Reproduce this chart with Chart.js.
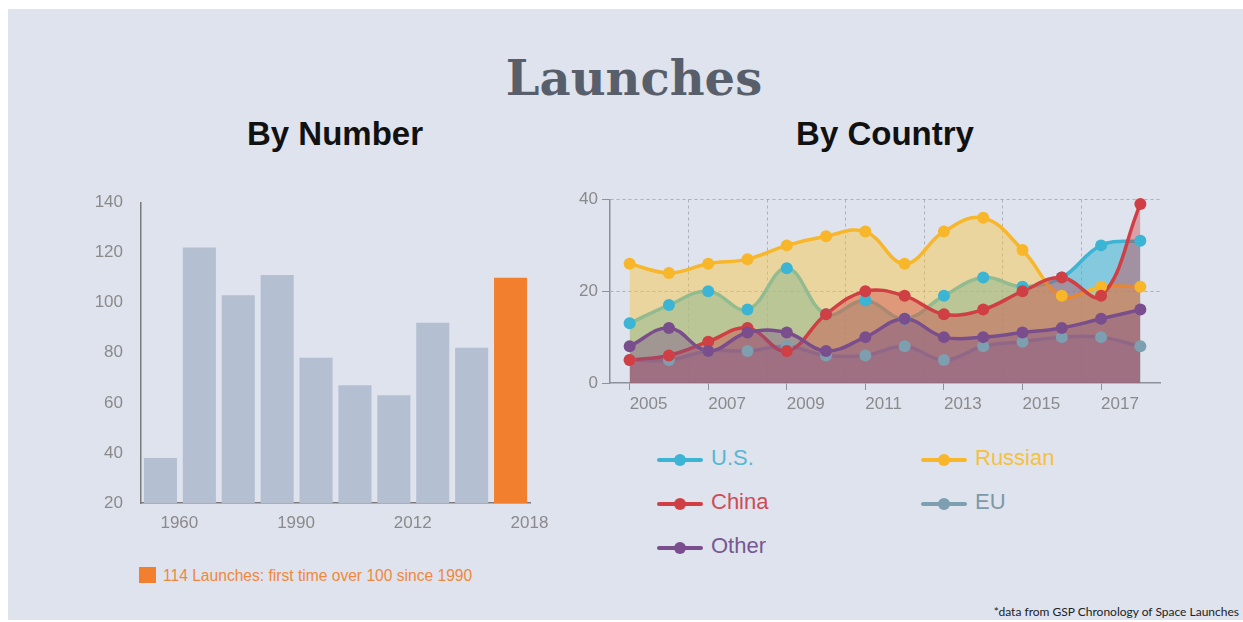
<!DOCTYPE html>
<html>
<head>
<meta charset="utf-8">
<script src="https://cdn.jsdelivr.net/npm/chart.js@4.4.1/dist/chart.umd.min.js"></script>
<style>
  html, body { margin: 0; padding: 0; background: #ffffff; }
  body { width: 1243px; height: 622px; position: relative; overflow: hidden; font-family: "Liberation Sans", Arial, sans-serif; }
  #slide { position: absolute; left: 8px; top: 9px; width: 1235px; height: 611px; background: #dee3ee; }
  .abs { position: absolute; white-space: nowrap; line-height: 1; }
  #title { left: 334px; width: 600px; top: 54px; text-align: center; font-family: "DejaVu Serif", serif; font-weight: bold; font-size: 48px; color: #595f6a; }
  .sub { width: 400px; top: 117px; text-align: center; font-weight: bold; font-size: 33px; color: #111111; }
  #note-box { left: 139px; top: 567px; width: 17px; height: 16px; background: #f27f2d; }
  #note { left: 163px; top: 568px; font-size: 15.6px; color: #f0883c; }
  #source { right: 4px; top: 606px; font-family: Lato, sans-serif; font-size: 12px; color: #222222; }
  canvas { position: absolute; }
  .leg-line { position: absolute; width: 46px; height: 4px; border-radius: 2px; }
  .leg-dot { position: absolute; width: 12px; height: 12px; border-radius: 50%; }
  .leg-text { position: absolute; font-size: 22px; line-height: 1; white-space: nowrap; }
</style>
</head>
<body>
<div id="slide"></div>
<div id="title" class="abs">Launches</div>
<div class="abs sub" style="left:135px">By Number</div>
<div class="abs sub" style="left:685px">By Country</div>
<canvas id="barChart" width="480" height="350" style="left:80px; top:190px"></canvas>
<canvas id="lineChart" width="620" height="240" style="left:560px; top:185px"></canvas>
<div id="legend"></div>
<div id="note-box" class="abs"></div>
<div id="note" class="abs">114 Launches: first time over 100 since 1990</div>
<div id="source" class="abs">*data from GSP Chronology of Space Launches</div>

<script>
// By Number (bars)
const barLabels = ['1960', '', '', '1990', '', '', '2012', '', '', '2018'];
const barValues = [38, 122, 103, 111, 78, 67, 63, 92, 82, 110];

// By Country (lines)
const years = ['2005', '2006', '2007', '2008', '2009', '2010', '2011', '2012', '2013', '2014', '2015', '2016', '2017', '2018'];
const usLaunches      = [13, 17, 20, 16, 25, 15, 18, 14, 19, 23, 21, 23, 30, 31];
const russianLaunches = [26, 24, 26, 27, 30, 32, 33, 26, 33, 36, 29, 19, 21, 21];
const chinaLaunches   = [5, 6, 9, 12, 7, 15, 20, 19, 15, 16, 20, 23, 19, 39];
const euLaunches      = [5, 5, 7, 7, 8, 6, 6, 8, 5, 8, 9, 10, 10, 8];
const otherLaunches   = [8, 12, 7, 11, 11, 7, 10, 14, 10, 10, 11, 12, 14, 16];

const axisGray = '#8b9099';
const tickGray = '#8a8a8a';
const gridGray = 'rgba(140, 140, 150, 0.6)';

Chart.defaults.font.family = '"Liberation Sans", Arial, sans-serif';
Chart.defaults.animation = false;

// Bar chart
new Chart(document.getElementById('barChart'), {
    type: 'bar',
    data: {
        labels: barLabels,
        datasets: [{
            data: barValues,
            backgroundColor: barValues.map((v, i) => i === barValues.length - 1 ? '#f27f2d' : '#b5bfd2'),
            borderWidth: 0,
            categoryPercentage: 0.85,
            barPercentage: 1
        }]
    },
    options: {
        responsive: false,
        layout: { padding: { top: 12.5, right: 30 } },
        plugins: { legend: { display: false }, tooltip: { enabled: false } },
        scales: {
            x: {
                grid: { display: false },
                border: { color: '#7a7a7a', width: 1.5 },
                ticks: {
                    autoSkip: false, maxRotation: 0, align: 'start',
                    color: tickGray, font: { size: 17 }, padding: 2
                },
                afterFit: scale => { scale.height = 37; }
            },
            y: {
                min: 20, max: 140,
                // invisible tick marks keep the labels away from the axis
                grid: { drawOnChartArea: false, drawTicks: true, tickLength: 16, tickColor: 'transparent' },
                border: { color: '#7a7a7a', width: 1.5 },
                ticks: { stepSize: 20, color: tickGray, font: { size: 17 }, padding: 2 },
                afterFit: scale => { scale.width = 61; }
            }
        }
    }
});

// Line chart
const series = [
    { name: 'U.S.',    values: usLaunches,      color: '#3cb4d4', fill: 'rgba(60, 180, 212, 0.55)', text: '#56b7d3' },
    { name: 'Russian', values: russianLaunches, color: '#f8b62a', fill: 'rgba(250, 196, 62, 0.45)', text: '#f7c03e' },
    { name: 'China',   values: chinaLaunches,   color: '#cf3f44', fill: 'rgba(207, 63, 68, 0.40)',  text: '#cf4c55' },
    { name: 'EU',      values: euLaunches,      color: '#7d9fb0', fill: 'rgba(125, 159, 176, 0.40)', text: '#7d99a8' },
    { name: 'Other',   values: otherLaunches,   color: '#7a4e8c', fill: 'rgba(122, 78, 140, 0.40)',  text: '#775890' }
];
// bottom to top: U.S., Russian, EU, China, Other
const drawRank = { 'U.S.': 5, 'Russian': 4, 'EU': 3, 'China': 2, 'Other': 1 };

const lineSets = series.map(s => ({
    data: s.values,
    borderColor: s.color,
    backgroundColor: s.fill,
    fill: 'origin',
    tension: 0.4,
    borderWidth: 3.5,
    pointRadius: 0,
    order: 10 + drawRank[s.name]
}));
const pointSets = series.map(s => ({
    data: s.values,
    showLine: false,
    fill: false,
    pointRadius: 6,
    pointBorderWidth: 0,
    pointBackgroundColor: s.color,
    clip: false,
    order: drawRank[s.name]
}));

new Chart(document.getElementById('lineChart'), {
    type: 'line',
    data: { labels: years, datasets: lineSets.concat(pointSets) },
    options: {
        responsive: false,
        layout: { padding: { top: 14.5, right: 20 } },
        plugins: { legend: { display: false }, tooltip: { enabled: false } },
        scales: {
            x: {
                offset: true,
                grid: {
                    drawOnChartArea: false, tickLength: 7,
                    tickColor: c => c.index % 2 === 0 ? axisGray : 'transparent'
                },
                border: { color: axisGray, width: 1.5 },
                ticks: {
                    autoSkip: false, maxRotation: 0, align: 'start', padding: 4,
                    color: tickGray, font: { size: 17 },
                    callback: (v, i) => i % 2 === 0 ? years[i] : ''
                },
                afterFit: scale => { scale.height = 42; }
            },
            xg: {
                type: 'linear', position: 'bottom',
                min: 0, max: years.length,
                ticks: { display: false, stepSize: 2 },
                grid: {
                    drawTicks: false,
                    color: c => (c.tick && c.tick.value > 0 && c.tick.value < years.length) ? gridGray : 'transparent'
                },
                border: { display: false, dash: [3, 3] },
                afterFit: scale => { scale.height = 0; }
            },
            y: {
                min: 0, max: 40,
                grid: {
                    tickLength: 8, tickColor: axisGray,
                    color: c => c.tick && c.tick.value > 0 ? gridGray : 'transparent'
                },
                border: { color: axisGray, width: 1.5, dash: [3, 3] },
                ticks: { stepSize: 20, color: tickGray, font: { size: 17 }, padding: 4 },
                afterFit: scale => { scale.width = 50; }
            }
        }
    }
});

// Legend, two columns
const legend = document.getElementById('legend');
series.forEach((s, i) => {
    const left = i % 2 === 0 ? 657 : 921;
    const mid = 460 + Math.floor(i / 2) * 44;
    const line = document.createElement('div');
    line.className = 'leg-line';
    line.style.cssText = `left:${left}px; top:${mid - 2}px; background:${s.color}`;
    const dot = document.createElement('div');
    dot.className = 'leg-dot';
    dot.style.cssText = `left:${left + 17}px; top:${mid - 6}px; background:${s.color}`;
    const label = document.createElement('div');
    label.className = 'leg-text';
    label.style.cssText = `left:${left + 54}px; top:${mid - 13}px; color:${s.text}`;
    label.textContent = s.name;
    legend.append(line, dot, label);
});
</script>
</body>
</html>
